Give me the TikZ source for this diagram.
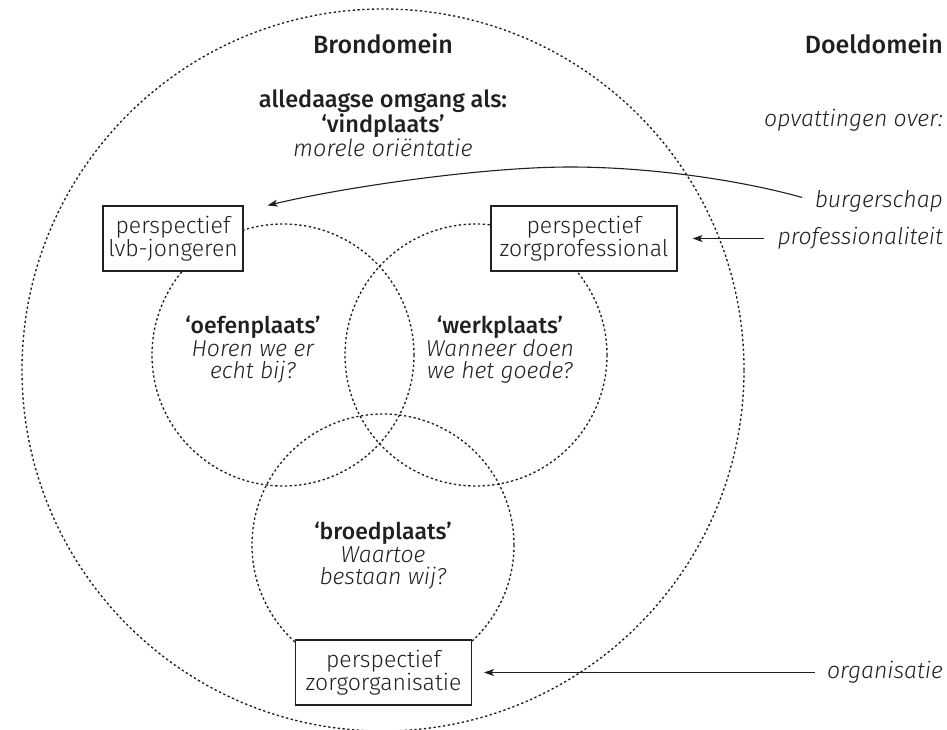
\documentclass[tikz,border=0pt]{standalone}
\usepackage{fontspec}
\setmainfont{Fira Sans}[UprightFont=* Light, ItalicFont=* Light Italic, BoldFont=* Medium]
\usetikzlibrary{arrows.meta}
\definecolor{ink}{HTML}{231F20}
\tikzset{
  dotline/.style={draw=ink, line width=1.35pt, dash pattern=on 2.3pt off 2.5pt},
  placecircle/.style={circle, dotline, inner sep=0pt},
  persp/.style={draw=ink, line width=1.1pt, align=center, inner sep=0pt, text=ink,
    fill=white, font=\fontsize{23}{23}\selectfont},
  lbl/.style={align=center, text=ink, font=\fontsize{23}{22.5}\selectfont},
  heading/.style={text=ink, font=\fontsize{25}{25}\selectfont\bfseries},
  side/.style={anchor=east, text=ink, inner sep=0pt, font=\fontsize{23}{22}\selectfont\itshape},
  arr/.style={draw=ink, line width=1.1pt, -{Stealth[length=10pt,width=7pt,inset=2.5pt]}},
}
\begin{document}
\begin{tikzpicture}[x=1pt,y=-1pt]
\useasboundingbox (0,0) rectangle (947,729);

% source domain and the three overlapping places
\node[placecircle, minimum size=722pt] (bron) at (383,370) {};
\node[placecircle, minimum size=262pt] (oefen) at (283,355) {};
\node[placecircle, minimum size=262pt] (werk) at (476,355) {};
\node[placecircle, minimum size=262pt] (broed) at (383,545) {};

% headings
\node[heading] (hbron) at (383,44) {Brondomein};
\node[heading, anchor=east, inner sep=0pt] (hdoel) at (943,44) {Doeldomein};

\node[lbl, font=\fontsize{23.5}{22.5}\selectfont] (vind) at (383,123) {\textbf{alledaagse omgang als:}\\\textbf{‘vindplaats’}\\\textit{morele oriëntatie}};

% perspectives
\node[persp, minimum width=140pt, minimum height=65pt] (lvb) at (173,238.5) {perspectief\\lvb-jongeren};
\node[persp, minimum width=186pt, minimum height=65pt] (prof) at (584,238.5) {perspectief\\zorgprofessional};
\node[persp, minimum width=176pt, minimum height=65pt] (org) at (383.5,672.5) {perspectief\\zorgorganisatie};

% place labels
\node[lbl] (toefen) at (253,350) {\textbf{‘oefenplaats’}\\\textit{Horen we er}\\\textit{echt bij?}};
\node[lbl] (twerk) at (500,350) {\textbf{‘werkplaats’}\\\textit{Wanneer doen}\\\textit{we het goede?}};
\node[lbl] (tbroed) at (383,556) {\textbf{‘broedplaats’}\\\textit{Waartoe}\\\textit{bestaan wij?}};

% target domain
\node[side] (opv) at (943,120) {opvattingen over:};
\node[side] (burg) at (943,201) {burgerschap};
\node[side] (profi) at (943,238.5) {professionaliteit};
\node[side] (orgi) at (943,672.5) {organisatie};

% mappings from target to source
\coordinate (burgtip) at ([xshift=24pt]lvb.north east);
\draw[arr, shorten <=13pt] (burg.west) .. controls (740,180) and (650,167) .. (570,167)
  .. controls (480,167) and (340,188) .. (burgtip);
\draw[arr, shorten <=13pt] (profi.west) -- ([xshift=15pt]prof.east);
\draw[arr, shorten <=12pt] (orgi.west) -- ([xshift=12pt]org.east);
\end{tikzpicture}
\end{document}
